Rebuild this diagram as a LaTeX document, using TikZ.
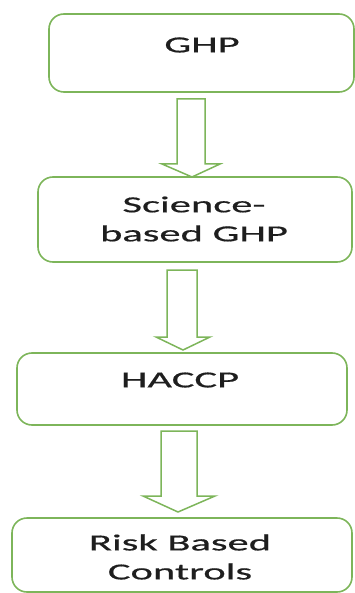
\documentclass[tikz,border=0pt]{standalone}
\usepackage{fontspec}
\newfontfamily\boxfont[FakeStretch=1.85,FakeBold=0.6]{Carlito}
\definecolor{offgreen}{HTML}{7DB55A}
\definecolor{txtgray}{HTML}{1E1E1E}
\begin{document}
\begin{tikzpicture}[x=1pt,y=-1pt,
  box/.style={draw=offgreen, line width=1.6pt, rounded corners=15pt, inner sep=0pt},
  lbl/.style={text=txtgray, font=\boxfont\fontsize{23}{29}\selectfont, align=center, inner sep=0pt},
  blockarrow/.style={draw=offgreen, line width=1.5pt, fill=white, line join=miter}]
\useasboundingbox (0,0) rectangle (355,593);
% boxes
\node[box, minimum width=305pt, minimum height=78pt] (b1) at (201.5,53) {};
\node[box, minimum width=314pt, minimum height=85pt] (b2) at (195,219.5) {};
\node[box, minimum width=330pt, minimum height=72pt] (b3) at (182,389) {};
\node[box, minimum width=340pt, minimum height=74pt] (b4) at (182,555) {};
% labels
\node[lbl] (t1) at (202,45) {GHP};
\node[lbl] (t2) at (194,219) {Science-\\based GHP};
\node[lbl] (t3) at (180,380) {HACCP};
\node[lbl] (t4) at (180,557) {Risk Based\\Controls};
% block arrows
\draw[blockarrow] (177,99) -- (205,99) -- (205,164) -- (220,164) -- (192,177) -- (162,164) -- (177,164) -- cycle;
\draw[blockarrow] (167,270) -- (197,270) -- (197,337) -- (210,337) -- (183,350) -- (156,337) -- (167,337) -- cycle;
\draw[blockarrow] (161,431) -- (197,431) -- (197,496) -- (215,496) -- (178,512) -- (143,496) -- (161,496) -- cycle;
\end{tikzpicture}
\end{document}
